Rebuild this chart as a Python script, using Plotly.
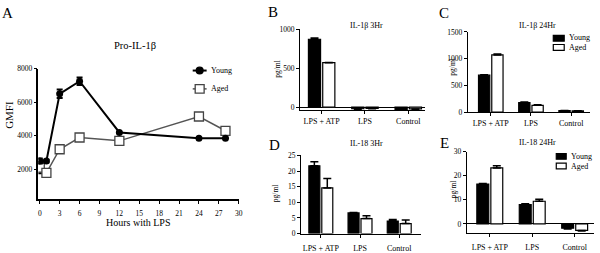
import plotly.graph_objects as go

W, H = 600, 253
FONT = "Liberation Serif"

# ---------------- data ----------------
hours = [0, 1, 3, 6, 12, 24, 28]
young_gmfi = [2500, 2500, 6500, 7250, 4200, 3850, 3850]
young_gmfi_err = [150, 80, 250, 220, 0, 0, 0]
aged_gmfi = [2100, 1800, 3200, 3900, 3700, 5150, 4300]
aged_gmfi_err = [350, 0, 0, 0, 0, 0, 0]

categories = ["LPS + ATP", "LPS", "Control"]

il1b_3h_young = [870, -20, -30]
il1b_3h_young_err = [15, 5, 5]
il1b_3h_aged = [570, -15, -22]
il1b_3h_aged_err = [3, 5, 5]

il1b_24h_young = [690, 175, 25]
il1b_24h_young_err = [10, 15, 3]
il1b_24h_aged = [1070, 125, 20]
il1b_24h_aged_err = [15, 10, 3]

il18_3h_young = [21.7, 6.6, 4.0]
il18_3h_young_err = [1.3, 0.1, 0.5]
il18_3h_aged = [14.6, 4.8, 3.2]
il18_3h_aged_err = [3.0, 0.9, 1.1]

il18_24h_young = [16.5, 8.0, -1.8]
il18_24h_young_err = [0.3, 0.4, 0.3]
il18_24h_aged = [23.2, 9.4, -2.7]
il18_24h_aged_err = [0.9, 0.8, 0.2]

gmfi_ticks = [2000, 4000, 6000, 8000]
hour_ticks = list(range(0, 31, 3))


def px(x):
    return x / W


def py(y):
    return 1 - y / H


fig = go.Figure()

# ---------------- panel A ----------------
fig.add_trace(go.Scatter(
    x=hours, y=aged_gmfi, mode="lines+markers", name="Aged",
    line=dict(color="#555555", width=1.5),
    marker=dict(symbol="square", size=9, color="white",
                line=dict(color="#444444", width=1.3)),
    error_y=dict(type="data", array=aged_gmfi_err, color="black",
                 thickness=1.5, width=3),
    xaxis="x", yaxis="y", showlegend=False))
fig.add_trace(go.Scatter(
    x=hours, y=young_gmfi, mode="lines+markers", name="Young",
    line=dict(color="black", width=2),
    marker=dict(symbol="circle", size=7, color="black"),
    error_y=dict(type="data", array=young_gmfi_err, color="black",
                 thickness=2, width=3),
    xaxis="x", yaxis="y", showlegend=False))


def bar_pair(young, young_err, aged, aged_err, xa, ya):
    for vals, errs, fill in ((young, young_err, "black"),
                             (aged, aged_err, "white")):
        up = [e if v >= 0 else 0 for v, e in zip(vals, errs)]
        dn = [e if v < 0 else 0 for v, e in zip(vals, errs)]
        fig.add_trace(go.Bar(
            x=categories, y=vals,
            marker=dict(color=fill, line=dict(color="black", width=1.2)),
            error_y=dict(type="data", symmetric=False, array=up,
                         arrayminus=dn, color="black", thickness=1.5,
                         width=4),
            xaxis=xa, yaxis=ya, showlegend=False))


bar_pair(il1b_3h_young, il1b_3h_young_err, il1b_3h_aged, il1b_3h_aged_err, "x2", "y2")
bar_pair(il1b_24h_young, il1b_24h_young_err, il1b_24h_aged, il1b_24h_aged_err, "x3", "y3")
bar_pair(il18_3h_young, il18_3h_young_err, il18_3h_aged, il18_3h_aged_err, "x4", "y4")
bar_pair(il18_24h_young, il18_24h_young_err, il18_24h_aged, il18_24h_aged_err, "x5", "y5")

tickfont = dict(family=FONT, size=7.5, color="black")
axis_common = dict(showline=True, linecolor="black", linewidth=1.2,
                   ticks="outside", ticklen=3, tickcolor="black",
                   tickwidth=1, showgrid=False, tickfont=tickfont,
                   fixedrange=True)
catfont = dict(family=FONT, size=8, color="black")

layout = dict(
    width=W, height=H, margin=dict(l=0, r=0, t=0, b=0),
    paper_bgcolor="white", plot_bgcolor="white",
    font=dict(family=FONT, color="black"),
    barmode="group", bargap=0.34, bargroupgap=0.15,
)

# A axes
layout["xaxis"] = dict(axis_common, domain=[px(37.7), px(240)],
                       range=[-0.2, 30.1], tickvals=hour_ticks,
                       zeroline=False, anchor="y", linewidth=1.5,
                       ticklabelstandoff=3)
layout["yaxis"] = dict(axis_common, domain=[py(202), py(67)],
                       range=[250, 8000], tickvals=gmfi_ticks,
                       zeroline=False, anchor="x", linewidth=1.5)

# B
layout["xaxis2"] = dict(axis_common, domain=[px(301), px(427)],
                        range=[-0.5, 2.39], anchor="y2", tickfont=catfont)
layout["yaxis2"] = dict(axis_common, domain=[py(110), py(26)],
                        range=[-37, 1000], tickvals=[0, 500, 1000],
                        zeroline=True, zerolinecolor="black",
                        zerolinewidth=1.2, anchor="x2")
# C
layout["xaxis3"] = dict(axis_common, domain=[px(470), px(593)],
                        range=[-0.57, 2.47], anchor="y3", tickfont=catfont)
layout["yaxis3"] = dict(axis_common, domain=[py(112), py(29)],
                        range=[0, 1500], tickvals=[0, 500, 1000, 1500],
                        zeroline=False, anchor="x3")
# D
layout["xaxis4"] = dict(axis_common, domain=[px(302), px(423)],
                        range=[-0.506, 2.56], anchor="y4", tickfont=catfont,
                        ticklabelstandoff=4)
layout["yaxis4"] = dict(axis_common, domain=[py(238), py(157)],
                        range=[0, 25], tickvals=[0, 5, 10, 15, 20, 25],
                        zeroline=False, anchor="x4")
# E
layout["xaxis5"] = dict(axis_common, domain=[px(469), px(597)],
                        range=[-0.54, 2.456], anchor="y5", tickfont=catfont,
                        ticklabelstandoff=4)
layout["yaxis5"] = dict(axis_common, domain=[py(237), py(153)],
                        range=[-3.6, 30], tickvals=[0, 10, 20, 30],
                        zeroline=True, zerolinecolor="black",
                        zerolinewidth=1.2, anchor="x5")

fig.update_layout(**layout)

ann = []


def text(x, y, s, size, xanchor="center", angle=0):
    ann.append(dict(x=px(x), y=py(y), xref="paper", yref="paper", text=s,
                    showarrow=False, xanchor=xanchor, yanchor="middle",
                    textangle=angle,
                    font=dict(family=FONT, size=size, color="black")))


# panel letters
text(7, 9, "A", 15)
text(274, 8, "B", 15)
text(446, 9, "C", 15)
text(275, 146, "D", 15)
text(446, 144, "E", 15)

# titles
text(135, 43, "Pro-IL-1β", 10.5)
text(368, 22, "IL-1β 3Hr", 8)
text(540, 22, "IL-1β 24Hr", 8)
text(368, 145, "IL-18 3Hr", 8)
text(540, 144, "IL-18 24Hr", 8)

# axis titles
text(8, 115, "GMFI", 11, angle=-90)
text(138, 227, "Hours with LPS", 10)
text(278, 67, "pg/ml", 7.5, angle=-90)
text(455, 65, "pg/ml", 7.5, angle=-90)
text(276, 196, "pg/ml", 7.5, angle=-90)
text(455, 192, "pg/ml", 7.5, angle=-90)

# legend texts
text(209, 69, "Young", 8, xanchor="left")
text(209, 88, "Aged", 8, xanchor="left")
text(570, 35, "Young", 8, xanchor="left")
text(570, 45, "Aged", 8, xanchor="left")
text(572, 158, "Young", 8, xanchor="left")
text(572, 168, "Aged", 8, xanchor="left")

shapes = []


def pshape(kind, x0, y0, x1, y1, fill=None, line_color="black", lw=1.2):
    shapes.append(dict(type=kind, xref="paper", yref="paper",
                       x0=px(x0), y0=py(y0), x1=px(x1), y1=py(y1),
                       fillcolor=fill, line=dict(color=line_color, width=lw)))


# legend A
pshape("line", 193, 69, 207, 69, lw=2)
pshape("circle", 196.5, 65.5, 203.5, 72.5, fill="black")
pshape("line", 193, 88, 207, 88, line_color="#555555", lw=1.5)
pshape("rect", 195.5, 83.5, 204.5, 92.5, fill="white", line_color="#444444", lw=1.3)
# legend C
pshape("rect", 556, 32.5, 567, 38.5, fill="black")
pshape("rect", 556, 42, 567, 48, fill="white")
# legend E
pshape("rect", 559, 155, 569, 161, fill="black")
pshape("rect", 559, 165, 569, 171, fill="white")

fig.update_layout(annotations=ann, shapes=shapes)

fig.write_html(
    "out.html",
    config={"displayModeBar": False},
    post_script="document.body.style.margin='0';document.body.style.overflow='hidden';",
)
